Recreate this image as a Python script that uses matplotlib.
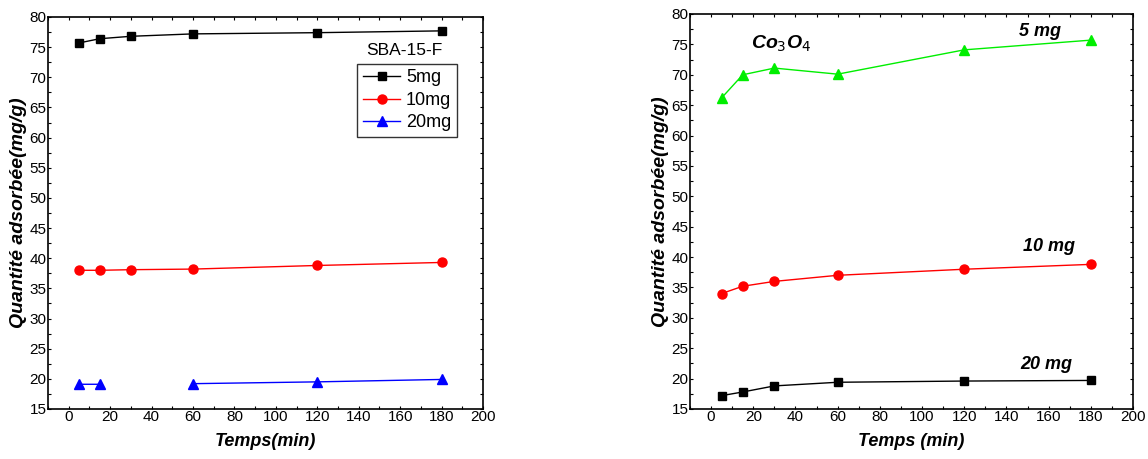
import numpy as np
import matplotlib
matplotlib.use("Agg")
import matplotlib.pyplot as plt
from matplotlib.ticker import MultipleLocator

plt.rcParams['font.family'] = ['Liberation Sans', 'DejaVu Sans']
plt.rcParams['mathtext.fontset'] = 'custom'
plt.rcParams['mathtext.it'] = 'Liberation Sans:bold:italic'

# temps de contact (min)
temps = [5, 15, 30, 60, 120, 180]

# SBA-15-F
sba_5mg = [75.7, 76.4, 76.8, 77.2, 77.4, 77.7]
sba_10mg = [38.0, 38.0, 38.1, 38.2, 38.8, 39.3]
sba_20mg = [19.1, 19.1, np.nan, 19.2, 19.5, 19.9]  # pas de point a 30 min

# Co3O4
co_5mg = [66.2, 70.0, 71.1, 70.1, 74.1, 75.7]
co_10mg = [34.0, 35.2, 36.0, 37.0, 38.0, 38.8]
co_20mg = [17.2, 17.8, 18.8, 19.4, 19.6, 19.7]

fig = plt.figure(figsize=(11.48, 4.59), dpi=100)
ax1 = fig.add_axes([48/1148, 1 - 409/459, 435/1148, 392/459])
ax2 = fig.add_axes([690/1148, 1 - 409/459, 443/1148, 395/459])


def style_axes(ax, xlabel):
    ax.set_xlim(-10, 200)
    ax.set_ylim(15, 80)
    ax.xaxis.set_major_locator(MultipleLocator(20))
    ax.xaxis.set_minor_locator(MultipleLocator(10))
    ax.yaxis.set_major_locator(MultipleLocator(5))
    ax.yaxis.set_minor_locator(MultipleLocator(2.5))
    ax.tick_params(which='both', direction='in', top=True, right=True,
                   length=2, width=0.8, labelsize=11, pad=1)
    for s in ax.spines.values():
        s.set_linewidth(1.2)
    ax.set_xlabel(xlabel, fontsize=13, fontweight='bold', style='italic', labelpad=6)
    ax.set_ylabel('Quantité adsorbée(mg/g)', fontsize=14, fontweight='bold',
                  style='italic', labelpad=2)


# --- SBA-15-F
ax1.plot(temps, sba_5mg, color='black', lw=1, marker='s', ms=5.5, label='5mg')
ax1.plot(temps, sba_10mg, color='red', lw=1, marker='o', ms=6.5, label='10mg')
ax1.plot(temps, sba_20mg, color='blue', lw=1, marker='^', ms=7, label='20mg')
style_axes(ax1, 'Temps(min)')
leg = ax1.legend(loc='upper right', bbox_to_anchor=(0.96, 0.903), fontsize=13,
                 frameon=True, fancybox=False, edgecolor='black', handlelength=2.1,
                 handletextpad=0.3, borderpad=0.3, labelspacing=0.3)
leg.get_frame().set_linewidth(1)
ax1.text(0.82, 0.895, 'SBA-15-F', transform=ax1.transAxes, fontsize=12.5,
         ha='center', va='bottom')

# --- Co3O4
ax2.plot(temps, co_5mg, color='#00ee00', lw=1, marker='^', ms=7)
ax2.plot(temps, co_10mg, color='red', lw=1, marker='o', ms=6.5)
ax2.plot(temps, co_20mg, color='black', lw=1, marker='s', ms=5.5)
style_axes(ax2, 'Temps (min)')
ax2.text(33, 75.2, r'$\mathit{Co_3O_4}$', fontsize=14, ha='center', va='center')
ax2.text(156, 77.2, '5 mg', fontsize=13, fontweight='bold', style='italic',
         ha='center', va='center')
ax2.text(160, 41.7, '10 mg', fontsize=13, fontweight='bold', style='italic',
         ha='center', va='center')
ax2.text(159, 22.4, '20 mg', fontsize=13, fontweight='bold', style='italic',
         ha='center', va='center')

fig.savefig('out.png', dpi=100)
